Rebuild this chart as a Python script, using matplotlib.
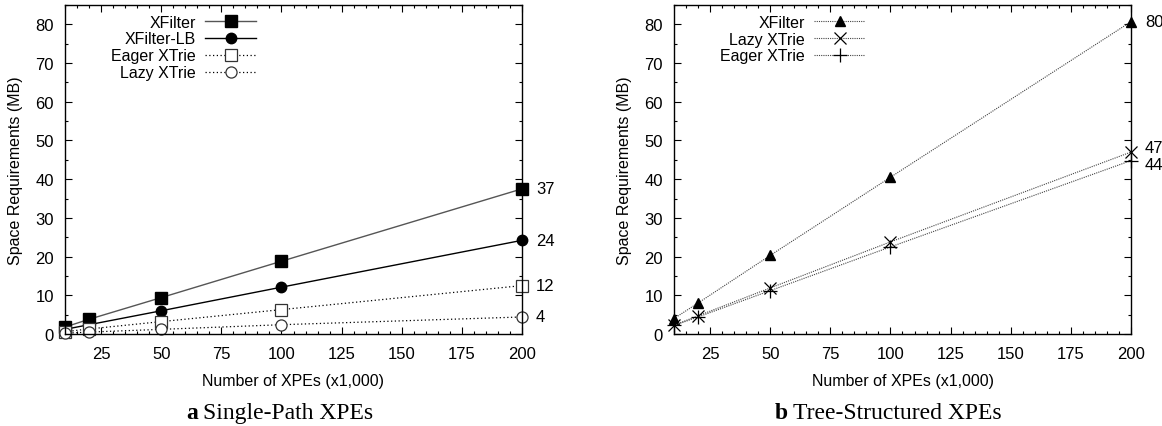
import matplotlib.pyplot as plt
from matplotlib.ticker import MultipleLocator

plt.rcParams['font.family'] = ['Liberation Sans', 'DejaVu Sans']

# thousands of XPEs
xpes = [10, 20, 50, 100, 200]

# (a) single-path XPEs, space in MB
sp_xfilter = [1.8, 3.8, 9.4, 18.8, 37.5]
sp_xfilter_lb = [1.2, 2.4, 6.0, 12.1, 24.2]
sp_eager = [0.6, 1.3, 3.2, 6.3, 12.5]
sp_lazy = [0.2, 0.5, 1.2, 2.4, 4.4]
sp_end_labels = ["37", "24", "12", "4"]

# (b) tree-structured XPEs, space in MB
ts_xfilter = [4.0, 8.0, 20.3, 40.5, 80.7]
ts_lazy = [2.3, 4.7, 11.9, 23.8, 47.0]
ts_eager = [2.2, 4.4, 11.2, 22.5, 44.8]
ts_end_labels = ["80", "47", "44"]

fig = plt.figure(figsize=(11.62, 4.27), dpi=100)
ax1 = fig.add_axes([65 / 1162, 1 - 335 / 427, 457 / 1162, 329 / 427])
ax2 = fig.add_axes([674 / 1162, 1 - 335 / 427, 457 / 1162, 329 / 427])


def style_axes(ax):
    ax.set_xlim(10, 200)
    ax.set_ylim(0, 85)
    ax.set_xticks([25, 50, 75, 100, 125, 150, 175, 200])
    ax.set_yticks(range(0, 81, 10))
    ax.xaxis.set_minor_locator(MultipleLocator(5))
    ax.yaxis.set_minor_locator(MultipleLocator(5))
    ax.tick_params(which='both', direction='in', top=True, right=True,
                   labelsize=12, width=0.8)
    ax.tick_params(which='major', length=5)
    ax.tick_params(which='minor', length=2.5)
    ax.tick_params(axis='x', pad=9)
    ax.tick_params(axis='y', pad=8)
    for s in ax.spines.values():
        s.set_linewidth(1.0)
    ax.set_xlabel("Number of XPEs (x1,000)", fontsize=11.5, labelpad=8)
    ax.set_ylabel("Space Requirements (MB)", fontsize=11.5, labelpad=9)


# ---- left panel ----
ax1.plot(xpes, sp_xfilter, color='#555555', lw=1.0, marker='s', ms=8,
         mfc='black', mec='black', label="XFilter", clip_on=False)
ax1.plot(xpes, sp_xfilter_lb, color='black', lw=1.0, marker='o', ms=7.5,
         mfc='black', label="XFilter-LB", clip_on=False)
ax1.plot(xpes, sp_eager, color='black', lw=0.9, ls=(0, (1, 2)), marker='s',
         ms=8, mfc='white', mec='#333333', mew=0.9, label="Eager XTrie", clip_on=False)
ax1.plot(xpes, sp_lazy, color='black', lw=0.9, ls=(0, (1, 2)), marker='o',
         ms=8, mfc='white', mec='#333333', mew=0.9, label="Lazy XTrie", clip_on=False)
style_axes(ax1)
for ys, lab in zip([sp_xfilter, sp_xfilter_lb, sp_eager, sp_lazy], sp_end_labels):
    ax1.annotate(lab, (xpes[-1], ys[-1]), xytext=(10, 0), textcoords='offset points',
                 va='center', ha='left', fontsize=12, annotation_clip=False)
ax1.legend(loc='upper right', bbox_to_anchor=(0.44, 1.0), frameon=False,
           markerfirst=False, fontsize=11.5, handlelength=3.2, handletextpad=0.6,
           labelspacing=0.12, borderaxespad=0.2)

# ---- right panel ----
ax2.plot(xpes, ts_xfilter, color='#444444', lw=0.8, ls=(0, (1, 1)), marker='^',
         ms=7, mfc='black', mec='black', label="XFilter", clip_on=False)
ax2.plot(xpes, ts_lazy, color='#444444', lw=0.8, ls=(0, (1, 1)), marker='x',
         ms=9, mec='black', mew=0.9, label="Lazy XTrie", clip_on=False)
ax2.plot(xpes, ts_eager, color='#444444', lw=0.8, ls=(0, (1, 1)), marker='+',
         ms=10, mec='black', mew=0.9, label="Eager XTrie", clip_on=False)
style_axes(ax2)
offs = [0, 3, -3]
for ys, lab, dy in zip([ts_xfilter, ts_lazy, ts_eager], ts_end_labels, offs):
    ax2.annotate(lab, (xpes[-1], ys[-1]), xytext=(10, dy), textcoords='offset points',
                 va='center', ha='left', fontsize=12, annotation_clip=False)
ax2.legend(loc='upper right', bbox_to_anchor=(0.44, 1.0), frameon=False,
           markerfirst=False, fontsize=11.5, handlelength=3.2, handletextpad=0.6,
           labelspacing=0.12, borderaxespad=0.2)

# captions below each panel
for x0, letter, text in [(186, "a", "Single-Path XPEs"), (775, "b", "Tree-Structured XPEs")]:
    lt = fig.text(x0 / 1162, 1 - 414 / 427, letter, family='Liberation Serif',
                  fontweight='bold', fontsize=17, ha='left', va='center')
    fig.canvas.draw()
    bb = lt.get_window_extent()
    fig.text((bb.x1 + 5) / 1162, 1 - 414 / 427, text, family='Liberation Serif',
             fontsize=17, ha='left', va='center')

fig.savefig("out.png", dpi=100)
